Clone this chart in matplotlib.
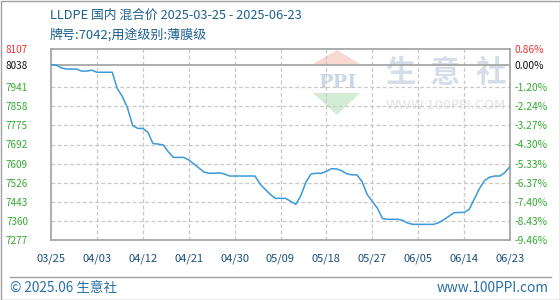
import matplotlib
matplotlib.use("Agg")
import matplotlib.pyplot as plt
from matplotlib.patches import Polygon, Rectangle

# ---- data ----
start_date = "2025-03-25"
prices = [8038, 8038, 8025, 8020, 8020, 8020, 8011, 8011, 8015, 8006,
          8006, 8006, 8006, 7935, 7900, 7851, 7775, 7762, 7762, 7745,
          7696, 7694, 7690, 7660, 7636, 7636, 7636, 7625, 7608, 7590,
          7572, 7567, 7567, 7569, 7564, 7555, 7555, 7555, 7555, 7555,
          7555, 7520, 7497, 7475, 7458, 7458, 7458, 7445, 7432, 7470,
          7530, 7564, 7567, 7567, 7575, 7587, 7586, 7578, 7565, 7560,
          7560, 7530, 7475, 7445, 7415, 7370, 7367, 7367, 7367, 7362,
          7350, 7345, 7345, 7345, 7345, 7345, 7352, 7365, 7380, 7395,
          7397, 7397, 7410, 7455, 7500, 7535, 7550, 7555, 7555, 7570,
          7596]
days = list(range(len(prices)))
x_tick_days = [0, 9, 18, 27, 36, 45, 54, 63, 72, 81, 90]
x_tick_labels = ["03/25", "04/03", "04/12", "04/21", "04/30", "05/09",
                 "05/18", "05/27", "06/05", "06/14", "06/23"]
y_ticks = [8107, 8038, 7941, 7858, 7775, 7692, 7609, 7526, 7443, 7360, 7277]
pct_labels = ["0.86%", "0.00%", "-1.20%", "-2.24%", "-3.27%", "-4.30%",
              "-5.33%", "-6.37%", "-7.40%", "-8.43%", "-9.46%"]
base_price = 8038
title = "LLDPE 国内 混合价 2025-03-25 - 2025-06-23"
subtitle = "牌号:7042;用途级别:薄膜级"

FONT = ["Noto Sans CJK SC", "DejaVu Sans"]
plt.rcParams["font.family"] = FONT

W, H = 560, 300
fig = plt.figure(figsize=(W / 100, H / 100), dpi=100)
fig.patch.set_facecolor("white")

def fx(x):
    return x / W

def fy(y):
    return 1 - y / H

# outer border
fig.add_artist(Rectangle((0.5 / W, 0.5 / H), 1 - 1.0 / W, 1 - 1.0 / H,
                         transform=fig.transFigure, fill=False,
                         edgecolor="#a0a0a0", lw=1.0, zorder=10))

# watermark (behind axes)
wm_kw = dict(transform=fig.transFigure, zorder=-5, lw=0)
fig.add_artist(Polygon([(fx(313), fy(64)), (fx(337), fy(50)), (fx(360), fy(64))],
                       closed=True, facecolor="#f8d9d2", **wm_kw))
fig.add_artist(Polygon([(fx(313), fy(93)), (fx(360), fy(93)), (fx(337), fy(115))],
                       closed=True, facecolor="#d3ecd5", **wm_kw))
fig.text(fx(337), fy(83), "PPI", ha="center", va="center", fontsize=14,
         fontweight="bold", color="#ccd6e8", family="DejaVu Serif", zorder=-5)
for cx, ch in zip([400, 445, 491], ["生", "意", "社"]):
    fig.text(fx(cx), fy(73), ch, ha="center", va="center", fontsize=22,
             fontweight="bold", color="#d6dde9", family=FONT, zorder=-5)
fig.text(fx(446), fy(106), "WWW.100PPI.COM", ha="center", va="center",
         fontsize=9.4, color="#e2e2e2", family="DejaVu Sans", zorder=-5)

# axes
ax = fig.add_axes([fx(51), fy(240), (510 - 51) / W, (240 - 49) / H])
ax.set_facecolor("none")
ax.set_xlim(0, 90)
ax.set_ylim(7277, 8107)

for t in x_tick_days[1:-1]:
    ax.axvline(t, color="#c8c8c8", lw=0.9, ls=(0, (3, 2)), zorder=1)
for v in y_ticks[2:-1]:
    ax.axhline(v, color="#c8c8c8", lw=0.9, ls=(0, (3, 2)), zorder=1)
ax.axhline(base_price, color="#a0a0a0", lw=1.2, zorder=2)

ax.plot(days, prices, color="#3a9ad9", lw=1.1, zorder=3)

for s in ax.spines.values():
    s.set_color("#a0a0a0")
    s.set_linewidth(1.2)

ax.set_xticks(x_tick_days)
ax.set_xticklabels(x_tick_labels)
ax.set_yticks(y_ticks)
ax.set_yticklabels([str(v) for v in y_ticks])
ax.tick_params(axis="both", length=0)
ax.tick_params(axis="x", pad=9.5, labelsize=8, labelcolor="#1b4f7e")
ax.tick_params(axis="y", pad=16.5, labelsize=7.2)

def lab_color(i):
    return "#ee3333" if i == 0 else ("#111111" if i == 1 else "#33aa33")

for i, lab in enumerate(ax.get_yticklabels()):
    lab.set_color(lab_color(i))

ax2 = ax.twinx()
ax2.set_ylim(ax.get_ylim())
ax2.set_yticks(y_ticks)
ax2.set_yticklabels(pct_labels)
ax2.tick_params(axis="y", length=0, pad=3.5, labelsize=7.4)
for i, lab in enumerate(ax2.get_yticklabels()):
    lab.set_color(lab_color(i))
for s in ax2.spines.values():
    s.set_visible(False)

# titles
fig.text(fx(50), fy(15.5), title, ha="left", va="center", fontsize=9.2,
         color="#1d5f8f", family=FONT)
fig.text(fx(50), fy(35), subtitle, ha="left", va="center", fontsize=9.4,
         color="#1d5f8f", family=FONT)

# footer
fig.add_artist(plt.Line2D([fx(10), fx(551)], [fy(277), fy(277)],
                          transform=fig.transFigure, color="#a0a0a0", lw=1.0))
fig.text(fx(10), fy(288), "© 2025.06 生意社", ha="left", va="center",
         fontsize=9.8, color="#2a6fa5", family=FONT)
fig.text(fx(549), fy(288), "www.100PPI.com", ha="right", va="center",
         fontsize=9.8, color="#2a6fa5", family=FONT)

fig.savefig("out.png", dpi=100)
